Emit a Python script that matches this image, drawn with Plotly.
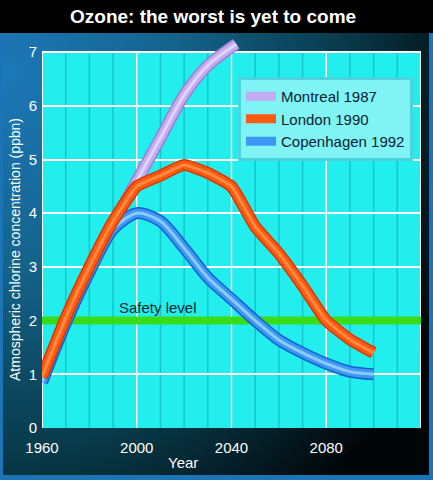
import base64
import plotly.graph_objects as go

# ---- data ----
years_montreal = [1960, 1970, 1980, 1990, 2000, 2010, 2020, 2030, 2042]
montreal = [0.88, 1.98, 2.92, 3.8, 4.6, 5.4, 6.2, 6.75, 7.15]

years_london = [1960, 1970, 1980, 1990, 2000, 2010, 2020, 2030, 2040, 2050, 2060, 2070, 2080, 2090, 2100]
london = [0.95, 2.05, 3.0, 3.85, 4.5, 4.7, 4.9, 4.75, 4.5, 3.75, 3.25, 2.65, 2.0, 1.65, 1.4]

years_copenhagen = [1960, 1970, 1980, 1990, 2000, 2010, 2020, 2030, 2040, 2050, 2060, 2070, 2080, 2090, 2100]
copenhagen = [0.85, 1.95, 2.9, 3.7, 4.0, 3.85, 3.35, 2.8, 2.4, 2.0, 1.64, 1.4, 1.2, 1.05, 1.0]

safety_years = [1960, 2120]
safety_level = [2, 2]

x_ticks = [1960, 2000, 2040, 2080]
x_minor = list(range(1970, 2120, 10))
x_range = [1960, 2120]
y_ticks = [0, 1, 2, 3, 4, 5, 6, 7]
y_top = 7

FONT = "Liberation Sans, Arial, sans-serif"
W, H = 433, 480
ML, MR, MT, MB = 42, 12, 36, 52
PW, PH = W - ML - MR, H - MT - MB

# background decoration (frame, gradient, title bar) as an SVG image
svg = f'''<svg xmlns="http://www.w3.org/2000/svg" width="{W}" height="{H}" viewBox="0 0 {W} {H}">
<defs><radialGradient id="g" cx="0.0" cy="0.15" r="1.15">
<stop offset="0" stop-color="#1d78b8"/><stop offset="0.35" stop-color="#14648c"/>
<stop offset="0.7" stop-color="#083a4a"/><stop offset="1" stop-color="#010608"/></radialGradient></defs>
<rect width="{W}" height="{H}" fill="#1b74b6"/>
<rect x="3" y="3" width="{W-7}" height="{H-8}" fill="url(#g)"/>
<rect x="0" y="0" width="{W}" height="33" fill="#000"/>
</svg>'''
uri = "data:image/svg+xml;base64," + base64.b64encode(svg.encode()).decode()

fig = go.Figure()

# safety level line
fig.add_trace(go.Scatter(x=safety_years, y=safety_level, mode="lines",
                         line=dict(color="#38dc18", width=8), showlegend=False, hoverinfo="skip"))

def tube(xs, ys, name, dark, main, light, rank, smoothing):
    fig.add_trace(go.Scatter(x=xs, y=ys, mode="lines", showlegend=False, hoverinfo="skip",
                             line=dict(color=dark, width=12, shape="spline", smoothing=smoothing)))
    fig.add_trace(go.Scatter(x=xs, y=ys, mode="lines", name=name, legendrank=rank,
                             line=dict(color=main, width=9, shape="spline", smoothing=smoothing)))
    fig.add_trace(go.Scatter(x=xs, y=ys, mode="lines", showlegend=False, hoverinfo="skip", opacity=0.75,
                             line=dict(color=light, width=3, shape="spline", smoothing=smoothing)))

tube(years_montreal, montreal, "Montreal 1987", "#9a7fd0", "#c2abf0", "#ece4ff", 1, 0.8)
tube(years_copenhagen, copenhagen, "Copenhagen 1992", "#1460d0", "#3c98f4", "#a8dcff", 3, 0.8)
tube(years_london, london, "London 1990", "#d83800", "#ff5a12", "#ff9a50", 2, 0.4)

# plot-area background, grid and frame as shapes (so the Montreal curve may rise above 7)
shapes = [dict(type="rect", xref="x", yref="y", x0=x_range[0], x1=x_range[1], y0=0, y1=y_top,
               fillcolor="#22eeee", line=dict(width=0), layer="below")]
for xv in x_minor:
    shapes.append(dict(type="line", xref="x", yref="y", x0=xv, x1=xv, y0=0, y1=y_top,
                       line=dict(color="#16c4cc", width=1.5), layer="below"))
for xv in x_ticks[1:]:
    shapes.append(dict(type="line", xref="x", yref="y", x0=xv, x1=xv, y0=0, y1=y_top,
                       line=dict(color="white", width=1.5), layer="below"))
for xv in x_range:
    shapes.append(dict(type="line", xref="x", yref="y", x0=xv, x1=xv, y0=0, y1=y_top,
                       line=dict(color="white", width=2), layer="below"))

fig.update_layout(
    width=W, height=H,
    margin=dict(l=ML, r=MR, t=MT, b=MB, pad=0),
    paper_bgcolor="#0b4a62",
    plot_bgcolor="rgba(0,0,0,0)",
    font=dict(family=FONT, color="white", size=15),
    showlegend=True,
    legend=dict(x=(238 - ML) / PW, y=1 - (77 - MT) / PH, xanchor="left", yanchor="top",
                bgcolor="#80f4f4", bordercolor="#4cd4dc", borderwidth=3,
                font=dict(family=FONT, size=15, color="#0c1c38"),
                tracegroupgap=0, itemwidth=30),
    xaxis=dict(range=x_range, tickvals=x_ticks, showgrid=False, ticklabelstandoff=9,
               showline=False, ticks="", zeroline=False, tickfont=dict(size=15, color="white")),
    yaxis=dict(range=[0, 7.3], tickvals=y_ticks, showgrid=True, gridcolor="white", gridwidth=2,
               showline=False, ticks="", zeroline=False, ticklabelstandoff=4,
               tickfont=dict(size=15, color="white")),
    images=[dict(source=uri, xref="paper", yref="paper", x=-ML / PW, y=1 + MT / PH,
                 sizex=W / PW, sizey=H / PH, xanchor="left", yanchor="top",
                 sizing="stretch", layer="below")],
    shapes=shapes,
    annotations=[
        dict(text="<b>Ozone: the worst is yet to come</b>", xref="paper", yref="paper",
             x=(213 - ML) / PW, y=1 + (MT - 16) / PH, xanchor="center", yanchor="middle",
             showarrow=False, font=dict(size=19, color="white", family=FONT)),
        dict(text="Atmospheric chlorine concentration (ppbn)", xref="paper", yref="paper",
             x=(15 - ML) / PW, y=1 - (250 - MT) / PH, xanchor="center", yanchor="middle",
             textangle=-90, showarrow=False, font=dict(size=14, color="white", family=FONT)),
        dict(text="Year", xref="paper", yref="paper",
             x=(183 - ML) / PW, y=-(462 - MT - PH) / PH, xanchor="center", yanchor="middle",
             showarrow=False, font=dict(size=15, color="white", family=FONT)),
        dict(text="Safety level", xref="x", yref="y", x=2009, y=2.24,
             xanchor="center", yanchor="middle", showarrow=False,
             font=dict(size=15, color="#15262c", family=FONT)),
    ],
)

fig.write_html("out.html", config={"displayModeBar": False},
               post_script="document.body.style.margin='0';document.body.style.overflow='hidden';")
